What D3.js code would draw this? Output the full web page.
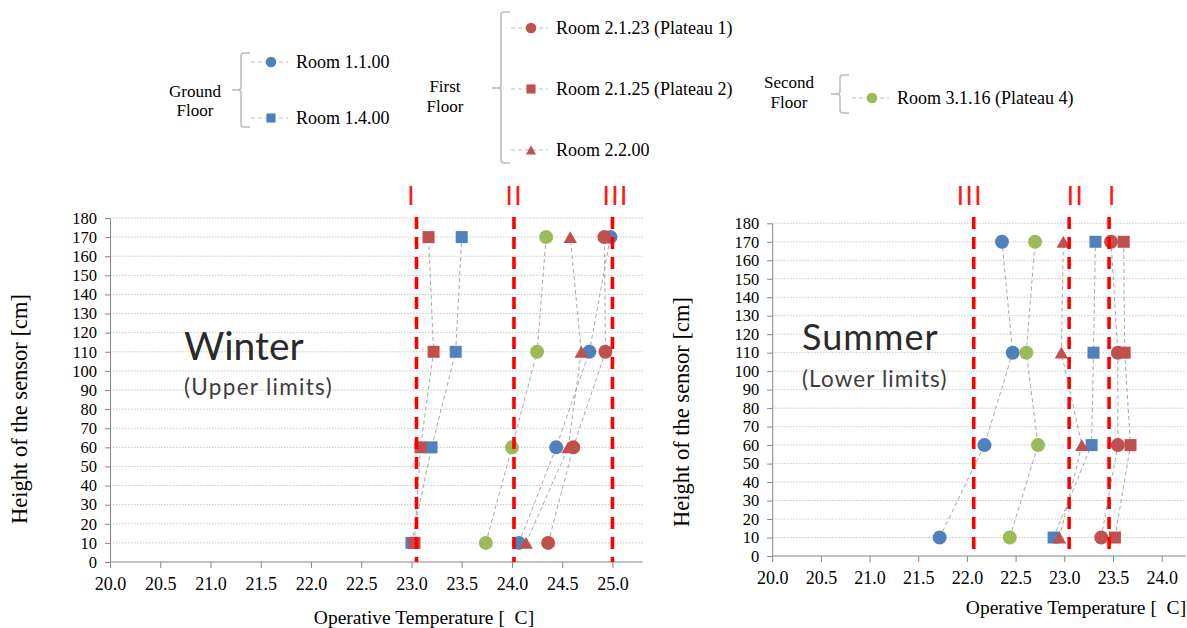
<!DOCTYPE html>
<html>
<head>
<meta charset="utf-8">
<script src="https://cdn.jsdelivr.net/npm/d3@7"></script>
<style>
  body { margin: 0; background: #fff; }
  svg { display: block; }
  .serif { font-family: "Liberation Serif", "Times New Roman", Times, "DejaVu Serif", serif; }
</style>
</head>
<body>
<svg id="chart" width="1187" height="628"></svg>
<script>
// Sensor heights (cm), one value per measurement row
const heights = [10, 60, 110, 170];

// Rooms, in series order
const rooms = ["Room 1.1.00", "Room 1.4.00", "Room 2.1.23 (Plateau 1)",
               "Room 2.1.25 (Plateau 2)", "Room 2.2.00", "Room 3.1.16 (Plateau 4)"];
const roomColors = ["#4F81BD", "#4F81BD", "#C0504D", "#C0504D", "#C0504D", "#9BBB59"];
const roomShapes = ["circle", "square", "circle", "square", "triangle", "circle"];

// Floor groups for the legend
const floorNames = [["Ground", "Floor"], ["First", "Floor"], ["Second", "Floor"]];
const floorRooms = [[0, 1], [2, 3, 4], [5]];

// Operative temperature (°C) per room, at heights 10 / 60 / 110 / 170 cm
const winterTemps = [
  [24.07, 24.44, 24.77, 24.98],
  [23.00, 23.20, 23.44, 23.50],
  [24.36, 24.61, 24.93, 24.92],
  [23.03, 23.09, 23.22, 23.17],
  [24.14, 24.56, 24.69, 24.58],
  [23.74, 24.00, 24.25, 24.34]
];
const summerTemps = [
  [21.72, 22.18, 22.47, 22.36],
  [22.89, 23.28, 23.30, 23.32],
  [23.38, 23.55, 23.55, 23.48],
  [23.52, 23.68, 23.62, 23.61],
  [22.95, 23.18, 22.97, 22.99],
  [22.44, 22.73, 22.61, 22.70]
];

// Comfort category limits (°C)
const limitNames = ["I", "II", "III"];
const winterLimits = [23.05, 24.02, 25.00];
const summerLimits = [23.46, 23.05, 22.07];

// Axis ticks
const yTicks = [0, 10, 20, 30, 40, 50, 60, 70, 80, 90, 100, 110, 120, 130, 140, 150, 160, 170, 180];
const winterXTicks = [20.0, 20.5, 21.0, 21.5, 22.0, 22.5, 23.0, 23.5, 24.0, 24.5, 25.0];
const summerXTicks = [20.0, 20.5, 21.0, 21.5, 22.0, 22.5, 23.0, 23.5, 24.0];

const svg = d3.select("#chart");
const SANS = "Lato, 'Open Sans', sans-serif";

// Marker drawing shared by plot and legend
function drawMarker(g, shape, color, cx, cy, s) {
  if (shape === "circle") {
    g.append("circle").attr("cx", cx).attr("cy", cy).attr("r", s * 0.56).attr("fill", color);
  } else if (shape === "square") {
    g.append("rect").attr("x", cx - s * 0.48).attr("y", cy - s * 0.48)
      .attr("width", s * 0.96).attr("height", s * 0.96).attr("fill", color);
  } else {
    const w = s * 1.08, h = s * 0.95;
    g.append("path")
      .attr("d", `M${cx},${cy - h / 2}L${cx + w / 2},${cy + h / 2}L${cx - w / 2},${cy + h / 2}Z`)
      .attr("fill", color);
  }
}

function drawPanel(p) {
  const x = d3.scaleLinear().domain([20, p.xMax]).range(p.xRange);
  const y = d3.scaleLinear().domain([0, 180]).range(p.yRange);
  const g = svg.append("g");

  // horizontal dotted grid
  g.append("g").selectAll("line").data(yTicks.filter(t => t > 0)).join("line")
    .attr("x1", x(20)).attr("x2", p.xRange[1])
    .attr("y1", d => y(d)).attr("y2", d => y(d))
    .attr("stroke", "#c8c8c8").attr("stroke-width", 1).attr("stroke-dasharray", "1.5,1.5");

  // season caption
  g.append("text").attr("x", p.titleX).attr("y", p.titleY)
    .attr("font-family", SANS).attr("font-size", p.titleSize).attr("letter-spacing", p.titleSpacing)
    .attr("fill", "#2a2a2a").text(p.title);
  g.append("text").attr("x", p.titleX).attr("y", p.subY)
    .attr("font-family", SANS).attr("font-size", 22.5).attr("letter-spacing", p.subSpacing)
    .attr("fill", "#3c3c3c").text(p.subtitle);

  // axes
  const xAxis = d3.axisBottom(x).tickValues(p.xTicks).tickFormat(d3.format(".1f"))
    .tickSize(6).tickSizeOuter(0).tickPadding(9);
  const ax = g.append("g").attr("transform", `translate(0,${y(0)})`).call(xAxis)
    .attr("font-family", null).attr("font-size", null).attr("class", "serif");
  ax.select(".domain").attr("stroke", "#868686").attr("d", `M${x(20)},0H${p.xRange[1]}`);
  ax.selectAll(".tick line").attr("stroke", "#868686");
  ax.selectAll(".tick text").attr("font-size", 18).attr("fill", "#000");

  const yAxis = d3.axisLeft(y).tickValues(yTicks).tickSize(5).tickSizeOuter(0).tickPadding(8);
  const ay = g.append("g").attr("transform", `translate(${x(20)},0)`).call(yAxis)
    .attr("font-family", null).attr("font-size", null).attr("class", "serif");
  ay.select(".domain").attr("stroke", "#868686");
  ay.selectAll(".tick line").attr("stroke", "#868686");
  ay.selectAll(".tick text").attr("font-size", 16.5).attr("fill", "#000");

  // axis titles
  g.append("text").attr("class", "serif").attr("x", p.xTitleX).attr("y", p.xTitleY).attr("text-anchor", "middle")
    .attr("font-size", 19.5).attr("fill", "#000")
    .text("Operative Temperature [\u00a0\u00a0C]");
  g.append("text").attr("class", "serif").attr("transform", `translate(${p.yTitleX},${p.yTitleY}) rotate(-90)`)
    .attr("text-anchor", "middle").attr("font-size", 22.5).attr("fill", "#000")
    .text("Height of the sensor [cm]");

  // connecting dashed lines per room
  const line = d3.line().x(d => x(d[0])).y(d => y(d[1]));
  p.temps.forEach(row => {
    g.append("path").datum(row.map((t, k) => [t, heights[k]]))
      .attr("d", line).attr("fill", "none")
      .attr("stroke", "#a8a8a8").attr("stroke-width", 1).attr("stroke-dasharray", "4,3");
  });

  // markers
  p.temps.forEach((row, i) => {
    row.forEach((t, k) => drawMarker(g, roomShapes[i], roomColors[i], x(t), y(heights[k]), 12.5));
  });

  // category limit lines and labels
  p.limits.forEach((v, i) => {
    g.append("line").attr("x1", x(v)).attr("x2", x(v)).attr("y1", p.limitTop).attr("y2", y(0))
      .attr("stroke", "#ff0000").attr("stroke-width", 3.6).attr("stroke-dasharray", "12,8");
    g.append("text").attr("x", x(v) + p.labelShift[i]).attr("y", 205)
      .attr("text-anchor", "middle").attr("font-family", "'Liberation Sans', Arial, sans-serif")
      .attr("font-size", 28).attr("letter-spacing", 1).attr("fill", "#ff1a1a")
      .text(limitNames[i]);
  });
}

drawPanel({
  temps: winterTemps, limits: winterLimits, labelShift: [-5, 0, 3],
  xTicks: winterXTicks, xMax: 25.3, xRange: [110, 642.6], yRange: [562, 218],
  limitTop: 217,
  title: "Winter", subtitle: "(Upper limits)", titleX: 184, titleY: 360, subY: 395,
  titleSize: 39, titleSpacing: 0, subSpacing: 1.3,
  xTitleX: 424, xTitleY: 624, yTitleX: 27, yTitleY: 409
});
drawPanel({
  temps: summerTemps, limits: summerLimits, labelShift: [3, 6, -4],
  xTicks: summerXTicks, xMax: 24.25, xRange: [772.2, 1186], yRange: [556, 223.3],
  limitTop: 217,
  title: "Summer", subtitle: "(Lower limits)", titleX: 802, titleY: 350, subY: 387,
  titleSize: 36, titleSpacing: 1, subSpacing: 1.1,
  xTitleX: 1076, xTitleY: 614, yTitleX: 689, yTitleY: 412
});

// Legend grouped by floor
const legendLayout = [
  { labelX: 195, labelY: [97, 116], braceX: 241, top: 53, bot: 127, mid: 90, itemX: 271, itemY: [62, 118] },
  { labelX: 445, labelY: [92, 112], braceX: 501, top: 12, bot: 163, mid: 88, itemX: 531, itemY: [28, 89, 150] },
  { labelX: 789, labelY: [88, 108], braceX: 840, top: 75, bot: 113, mid: 94, itemX: 872, itemY: [98] }
];
const legend = svg.append("g").attr("class", "serif");
floorNames.forEach((names, f) => {
  const L = legendLayout[f];
  names.forEach((n, j) => legend.append("text").attr("x", L.labelX).attr("y", L.labelY[j])
    .attr("text-anchor", "middle").attr("font-size", 17).attr("fill", "#000").text(n));
  const bx = L.braceX;
  legend.append("path")
    .attr("d", `M${bx + 9},${L.top}H${bx + 3}Q${bx},${L.top} ${bx},${L.top + 3}V${L.mid - 3}Q${bx},${L.mid} ${bx - 3},${L.mid}H${bx - 9}` +
               `M${bx - 3},${L.mid}Q${bx},${L.mid} ${bx},${L.mid + 3}V${L.bot - 3}Q${bx},${L.bot} ${bx + 3},${L.bot}H${bx + 9}`)
    .attr("fill", "none").attr("stroke", "#bcbcbc").attr("stroke-width", 1.5);
  floorRooms[f].forEach((r, j) => {
    const cy = L.itemY[j];
    legend.append("line").attr("x1", L.itemX - 20).attr("x2", L.itemX + 17).attr("y1", cy).attr("y2", cy)
      .attr("stroke", "#bdbdbd").attr("stroke-width", 1).attr("stroke-dasharray", "4,3");
    drawMarker(legend, roomShapes[r], roomColors[r], L.itemX, cy, 9.5);
    legend.append("text").attr("x", L.itemX + 25).attr("y", cy + 6)
      .attr("font-size", 18).attr("fill", "#000").text(rooms[r]);
  });
});
</script>
</body>
</html>
